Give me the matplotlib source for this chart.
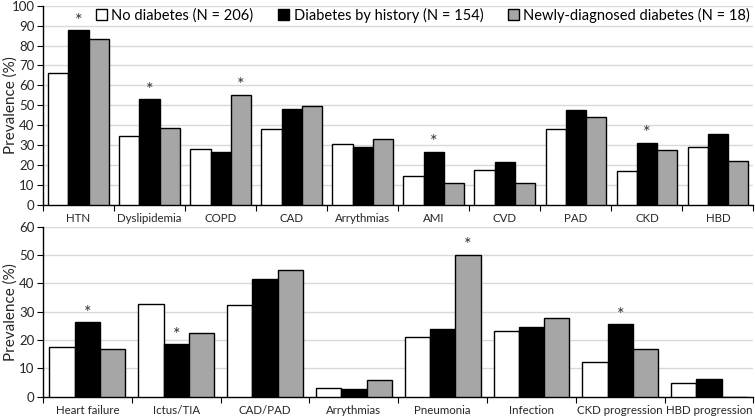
import numpy as np
import matplotlib
matplotlib.use("Agg")
import matplotlib.pyplot as plt
from matplotlib.patches import Patch

plt.rcParams['font.family'] = ['Lato', 'DejaVu Sans']

# ---- data ----
series_names = ["No diabetes (N = 206)", "Diabetes by history (N = 154)", "Newly-diagnosed diabetes (N = 18)"]

top_categories = ["HTN", "Dyslipidemia", "COPD", "CAD", "Arrythmias", "AMI", "CVD", "PAD", "CKD", "HBD"]
top_no_diabetes = [66.0, 34.5, 28.0, 38.2, 30.5, 14.7, 17.3, 38.3, 16.8, 29.0]
top_history = [87.7, 53.2, 26.7, 48.3, 29.3, 26.7, 21.5, 47.7, 31.3, 35.7]
top_new = [83.3, 38.8, 55.3, 49.8, 33.3, 11.0, 11.0, 44.3, 27.7, 22.2]
# (category index, series index) carrying a significance star
top_stars = [(0, 1), (1, 1), (2, 2), (5, 1), (8, 1)]

bottom_categories = ["Heart failure", "Ictus/TIA", "CAD/PAD", "Arrythmias", "Pneumonia",
                     "Infection", "CKD progression", "HBD progression"]
bottom_no_diabetes = [17.6, 32.8, 32.5, 3.1, 21.2, 23.3, 12.4, 4.9]
bottom_history = [26.4, 18.5, 41.4, 2.8, 23.8, 24.6, 25.5, 6.1]
bottom_new = [16.8, 22.4, 44.7, 5.9, 50.1, 27.9, 16.8, 0.0]
bottom_stars = [(0, 1), (1, 1), (4, 2), (6, 1)]

colors = ["white", "black", "#a6a6a6"]
grid_color = "#d9d9d9"
text_color = "#262626"


def draw_panel(ax, categories, series, stars, ymax, ystep):
    n = len(categories)
    x = np.arange(n)
    width = 0.285
    offsets = [-width, 0, width]
    for vals, off, col in zip(series, offsets, colors):
        ax.bar(x + off, vals, width=width, color=col, edgecolor="black", linewidth=1.0, zorder=3)
    for ci, si in stars:
        ax.annotate("*", xy=(x[ci] + offsets[si], series[si][ci]), xytext=(0, 1),
                    textcoords="offset points", ha="center", va="bottom",
                    fontsize=13, color="#333333")
    ax.set_xlim(-0.5, n - 0.5)
    ax.set_ylim(0, ymax)
    ax.set_yticks(np.arange(0, ymax + 1, ystep))
    ax.yaxis.grid(True, color=grid_color, linewidth=1.0, zorder=0)
    ax.set_axisbelow(True)
    # tick marks at the category boundaries, labels at the centres
    ax.set_xticks(np.arange(-0.5, n, 1.0))
    ax.set_xticklabels([])
    ax.set_xticks(x, minor=True)
    ax.set_xticklabels(categories, minor=True, fontsize=8.3, color=text_color)
    ax.tick_params(axis="x", which="major", length=4, direction="out", color="black")
    ax.tick_params(axis="x", which="minor", length=0, pad=6)
    ax.tick_params(axis="y", length=4, direction="out", pad=2, labelsize=9.5, labelcolor=text_color)
    for side in ["top", "right"]:
        ax.spines[side].set_visible(False)
    for side in ["left", "bottom"]:
        ax.spines[side].set_color("black")
        ax.spines[side].set_linewidth(1.0)
    ax.set_ylabel("Prevalence (%)", fontsize=11, color=text_color)
    ax.yaxis.set_label_coords(-0.036, 0.5)


fig = plt.figure(figsize=(7.55, 4.19), dpi=100)
ax1 = fig.add_axes([0.057, 0.511, 0.941, 0.4755])
ax2 = fig.add_axes([0.057, 0.053, 0.941, 0.406])

draw_panel(ax1, top_categories, [top_no_diabetes, top_history, top_new], top_stars, 100, 10)
draw_panel(ax2, bottom_categories, [bottom_no_diabetes, bottom_history, bottom_new], bottom_stars, 60, 10)

handles = [Patch(facecolor=c, edgecolor="black", linewidth=1.0) for c in colors]
ax1.legend(handles, series_names, loc="center", bbox_to_anchor=(0.535, 0.953), ncol=3,
           frameon=False, fontsize=10.5, handlelength=0.75, handleheight=0.75,
           handletextpad=0.3, columnspacing=1.7, borderaxespad=0, borderpad=0)

fig.savefig("out.png", dpi=100)
